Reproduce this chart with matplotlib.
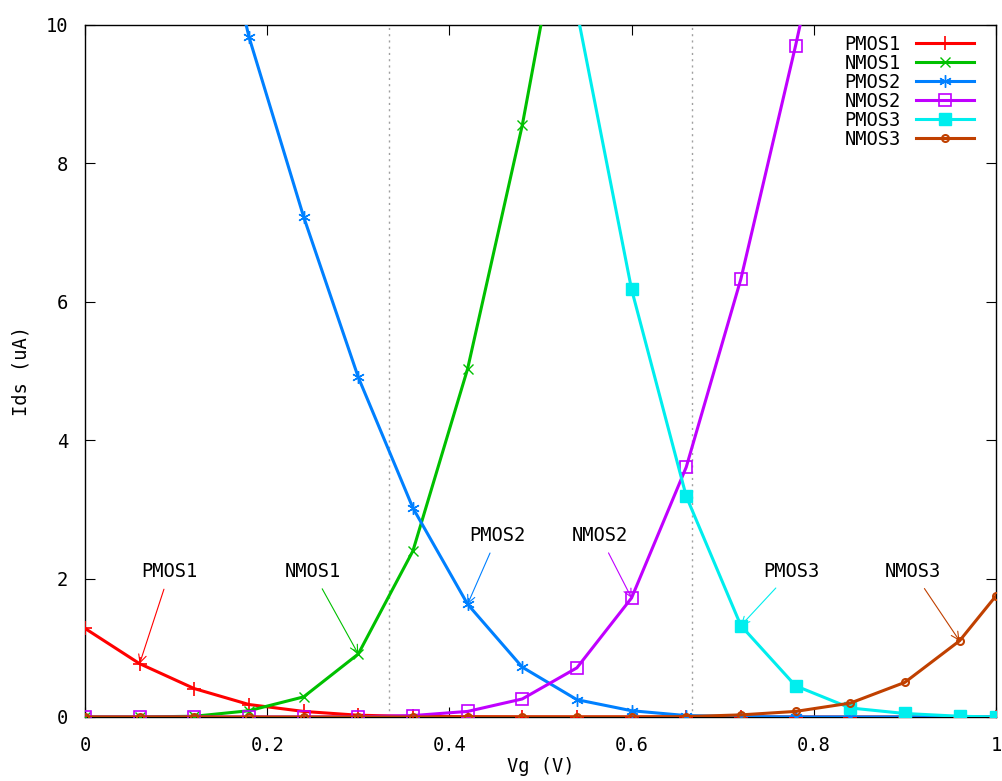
import numpy as np
import matplotlib
matplotlib.use("Agg")
import matplotlib.pyplot as plt

plt.rcParams['font.family'] = ['DejaVu Sans Mono']

# gate voltage samples
vg = [0.0, 0.06, 0.12, 0.18, 0.24, 0.30, 0.36, 0.42, 0.48, 0.54,
      0.60, 0.66, 0.72, 0.78, 0.84, 0.90, 0.96, 1.0]

pmos1 = [1.28, 0.77, 0.41, 0.18, 0.08, 0.025, 0.008, 0.003, 0.001, 0.0,
         0.0, 0.0, 0.0, 0.0, 0.0, 0.0, 0.0, 0.0]
nmos1 = [0.0, 0.0, 0.01, 0.09, 0.29, 0.91, 2.4, 5.03, 8.55, 12.8,
         17.5, 22.0, 27.0, 32.0, 37.0, 42.0, 47.0, 50.0]
pmos2 = [22.0, 17.0, 13.2, 9.83, 7.23, 4.91, 3.02, 1.63, 0.72, 0.25,
         0.09, 0.02, 0.005, 0.0, 0.0, 0.0, 0.0, 0.0]
nmos2 = [0.0, 0.0, 0.0, 0.0, 0.0, 0.003, 0.02, 0.08, 0.26, 0.71,
         1.72, 3.61, 6.33, 9.70, 13.3, 17.0, 21.0, 24.0]
pmos3 = [40.0, 34.0, 29.0, 25.0, 21.0, 18.0, 15.0, 12.5, 15.0, 10.2,
         6.18, 3.19, 1.32, 0.45, 0.13, 0.05, 0.01, 0.0]
nmos3 = [0.0, 0.0, 0.0, 0.0, 0.0, 0.0, 0.0, 0.0, 0.0, 0.0,
         0.0, 0.005, 0.03, 0.08, 0.20, 0.50, 1.10, 1.75]

names = ['PMOS1', 'NMOS1', 'PMOS2', 'NMOS2', 'PMOS3', 'NMOS3']
colors = ['#ff0000', '#00c000', '#0080ff', '#c000ff', '#00eeee', '#c04000']
series = [pmos1, nmos1, pmos2, nmos2, pmos3, nmos3]

# label text position and the point each arrow points at
label_pos = [(0.093, 2.1), (0.25, 2.1), (0.453, 2.62), (0.565, 2.62), (0.775, 2.1), (0.909, 2.1)]
arrow_idx = [1, 5, 7, 10, 12, 16]

fs = 13.5

fig = plt.figure(figsize=(10.03, 7.81), dpi=100)
ax = fig.add_axes([0.0847, 0.082, 0.9083, 0.886])

# dotted vertical guides
for xv in [1/3, 2/3]:
    ax.axvline(xv, color='#a0a0a0', ls=(0, (1.5, 3)), lw=1.0, zorder=1)

styles = [
    dict(marker='+', ms=10, mew=1.2),
    dict(marker='x', ms=7, mew=1.0),
    dict(marker=(6, 2, 0), ms=9, mew=1.0),
    dict(marker='s', ms=8, mfc='none', mew=1.2),
    dict(marker='s', ms=8),
    dict(marker='o', ms=5, mfc='none', mew=1.5),
]

for name, c, y, st in zip(names, colors, series, styles):
    ax.plot(vg, y, color=c, lw=2.2, label=name, zorder=3, **st)

for name, c, y, (tx, ty), i in zip(names, colors, series, label_pos, arrow_idx):
    ax.annotate(name, xy=(vg[i], y[i]), xytext=(tx, ty),
                ha='center', va='center', fontsize=fs,
                arrowprops=dict(arrowstyle='->', color=c, lw=0.8,
                                shrinkA=4, shrinkB=0, mutation_scale=14),
                zorder=4)

ax.set_xlim(0, 1)
ax.set_ylim(0, 10)
ax.set_xticks([0, 0.2, 0.4, 0.6, 0.8, 1.0])
ax.set_xticklabels(['0', '0.2', '0.4', '0.6', '0.8', '1'])
ax.set_yticks([0, 2, 4, 6, 8, 10])
ax.tick_params(direction='in', length=7, top=True, right=True,
               labelsize=fs)
ax.tick_params(axis='x', pad=14)
ax.tick_params(axis='y', pad=12)
for s in ax.spines.values():
    s.set_linewidth(1.0)
    s.set_zorder(2)

ax.set_xlabel('Vg (V)', fontsize=fs)
ax.set_ylabel('Ids (uA)', fontsize=fs)
ax.xaxis.set_label_coords(0.5, -0.058)
ax.yaxis.set_label_coords(-0.06, 0.5)

ax.legend(loc='upper right', frameon=False, markerfirst=False, fontsize=fs,
          handlelength=3.1, labelspacing=0.0, borderaxespad=0.0,
          bbox_to_anchor=(0.984, 0.997), handletextpad=0.8)

fig.savefig('out.png', dpi=100)
